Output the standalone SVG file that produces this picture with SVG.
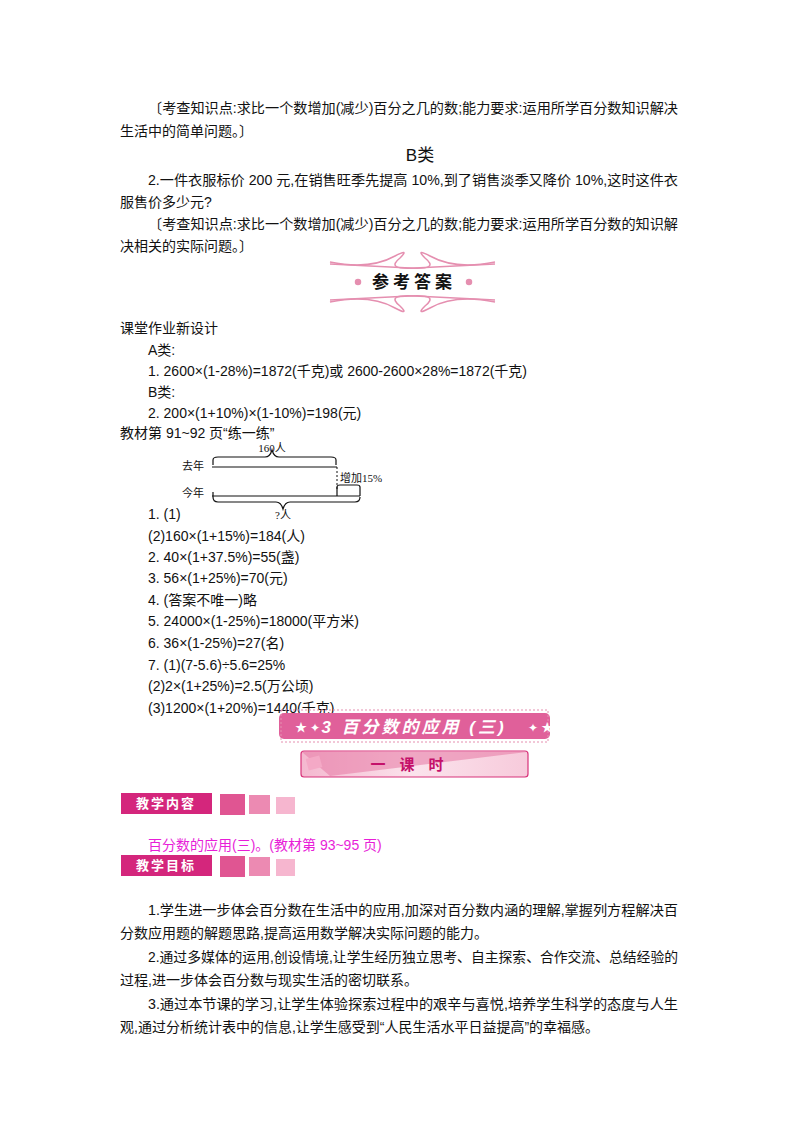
<svg xmlns="http://www.w3.org/2000/svg" width="800" height="1132" viewBox="0 0 800 1132">
<style>
text{font-family:"Liberation Sans","Noto Sans CJK SC",sans-serif;font-size:14px;fill:#111}
.s{font-family:"Liberation Serif","Noto Sans CJK SC",serif;font-size:11px}
.pk{fill:#e0187e}
.w{fill:#fff;font-weight:bold}
.ln{stroke:#111;stroke-width:1.2;fill:none}
</style>
<rect width="800" height="1132" fill="#fff"/>
<g id="text-top">
<text x="148" y="113" textLength="530" lengthAdjust="spacingAndGlyphs">〔考查知识点:求比一个数增加(减少)百分之几的数;能力要求:运用所学百分数知识解决</text>
<text x="120" y="136">生活中的简单问题。〕</text>
<text x="420" y="161" font-size="17" text-anchor="middle" style="font-size:17px">B类</text>
<text x="148" y="185" textLength="530" lengthAdjust="spacingAndGlyphs">2.一件衣服标价 200 元,在销售旺季先提高 10%,到了销售淡季又降价 10%,这时这件衣</text>
<text x="120" y="207">服售价多少元?</text>
<text x="148" y="229" textLength="530" lengthAdjust="spacingAndGlyphs">〔考查知识点:求比一个数增加(减少)百分之几的数;能力要求:运用所学百分数的知识解</text>
<text x="120" y="251">决相关的实际问题。〕</text>
</g>
<g id="answer-banner" fill="none" stroke="#e58fb0" stroke-width="1.5">
<path d="M330 262 Q370 270 395 256 Q410 248 400 258 Q385 270 415 268 L495 264"/>
<path d="M495 262 Q455 270 430 256 Q415 248 425 258 Q440 270 410 268 L330 264"/>
<path d="M330 302 Q370 294 395 308 Q410 316 400 306 Q385 294 415 296 L495 300"/>
<path d="M495 302 Q455 294 430 308 Q415 316 425 306 Q440 294 410 296 L330 300"/>
<circle cx="358" cy="282" r="2.5" fill="#e58fb0"/>
<circle cx="469" cy="282" r="2.5" fill="#e58fb0"/>
<text x="414" y="288" text-anchor="middle" stroke="none" style="font-size:17px;font-weight:bold;letter-spacing:4px">参考答案</text>
</g>
<g id="answers">
<text x="120" y="333">课堂作业新设计</text>
<text x="148" y="355">A类:</text>
<text x="148" y="376">1. 2600×(1-28%)=1872(千克)或 2600-2600×28%=1872(千克)</text>
<text x="148" y="397">B类:</text>
<text x="148" y="418">2. 200×(1+10%)×(1-10%)=198(元)</text>
<text x="120" y="438">教材第 91~92 页“练一练”</text>
</g>
<g id="bar-diagram">
<text class="s" x="182" y="470">去年</text>
<text class="s" x="182" y="497">今年</text>
<text class="s" x="272" y="452" text-anchor="middle">160人</text>
<text class="s" x="340" y="482">增加15%</text>
<text class="s" x="283" y="519" text-anchor="middle">?人</text>
<path class="ln" d="M213 465 L213 460 Q213 457 218 457 L265 457 Q270 457 272 450 Q274 457 279 457 L331 457 Q336 457 336 460 L336 465"/>
<line class="ln" x1="212" y1="467" x2="337" y2="467"/>
<line x1="337" y1="467" x2="337" y2="490" stroke="#111" stroke-dasharray="2,2"/>
<line class="ln" x1="212" y1="496" x2="360" y2="496"/>
<path class="ln" d="M337 496 L337 487 Q337 485 340 485 L357 485 Q360 485 360 487 L360 496"/>
<path class="ln" d="M213 492 L213 497 M213 497 Q213 502 218 502 L276 502 Q281 502 283 509 Q285 502 290 502 L355 502 Q360 502 360 497"/>
</g>
<g id="exercise">
<text x="148" y="519">1. (1)</text>
<text x="148" y="541">(2)160×(1+15%)=184(人)</text>
<text x="148" y="562">2. 40×(1+37.5%)=55(盏)</text>
<text x="148" y="583">3. 56×(1+25%)=70(元)</text>
<text x="148" y="605">4. (答案不唯一)略</text>
<text x="148" y="626">5. 24000×(1-25%)=18000(平方米)</text>
<text x="148" y="648">6. 36×(1-25%)=27(名)</text>
<text x="148" y="670">7. (1)(7-5.6)÷5.6=25%</text>
<text x="148" y="691">(2)2×(1+25%)=2.5(万公顷)</text>
<text x="148" y="713">(3)1200×(1+20%)=1440(千克)</text>
</g>
<g id="chapter-banner">
<rect x="279" y="713" width="271" height="26" rx="5" fill="#e0609a"/>
<rect x="281" y="710" width="267" height="32" fill="none" stroke="#e58fb0" stroke-dasharray="2,2"/>
<text x="295" y="732" fill="#fff" style="fill:#fff;font-size:12px">★ ✦</text>
<text x="528" y="732" style="fill:#fff;font-size:12px">✦ ★</text>
<text x="414" y="733" text-anchor="middle" class="w" style="font-size:17px;font-style:italic;letter-spacing:3px">3 百分数的应用 (三)</text>
</g>
<g id="lesson-banner">
<defs><linearGradient id="g1" x1="0" x2="1"><stop offset="0" stop-color="#f4b8cf"/><stop offset="0.5" stop-color="#fbe3ec"/><stop offset="1" stop-color="#f7cadb"/></linearGradient></defs>
<rect x="301" y="751" width="227" height="26" rx="3" fill="url(#g1)" stroke="#d8337a" stroke-width="1.2"/>
<path d="M302 752 L527 752 L330 776 Z" fill="#e77fa8" opacity="0.6"/>
<rect x="307" y="757" width="14" height="12" fill="#f4a9c6" transform="rotate(-15 314 763)"/>
<text x="414" y="770" text-anchor="middle" style="font-size:15px;font-weight:bold;fill:#c4106a;letter-spacing:14px">一课时</text>
</g>
<g id="content-header">
<rect x="121" y="793" width="91" height="21" fill="#d4267c"/>
<text x="166" y="808" text-anchor="middle" class="w" style="font-size:13px;letter-spacing:2px">教学内容</text>
<rect x="220" y="794" width="25" height="21" fill="#e05592"/>
<rect x="249" y="795" width="21" height="19" fill="#ec8ab2"/>
<rect x="276" y="797" width="19" height="17" fill="#f6b6cf"/>
</g>
<text x="148" y="850" class="pk" style="fill:#e81ed8">百分数的应用(三)。(教材第 93~95 页)</text>
<g id="goal-header">
<rect x="121" y="855" width="91" height="21" fill="#d4267c"/>
<text x="166" y="870" text-anchor="middle" class="w" style="font-size:13px;letter-spacing:2px">教学目标</text>
<rect x="220" y="856" width="25" height="21" fill="#e05592"/>
<rect x="249" y="857" width="21" height="19" fill="#ec8ab2"/>
<rect x="276" y="859" width="19" height="17" fill="#f6b6cf"/>
</g>
<g id="goals">
<text x="148" y="915" textLength="530" lengthAdjust="spacingAndGlyphs">1.学生进一步体会百分数在生活中的应用,加深对百分数内涵的理解,掌握列方程解决百</text>
<text x="120" y="938">分数应用题的解题思路,提高运用数学解决实际问题的能力。</text>
<text x="148" y="962" textLength="530" lengthAdjust="spacingAndGlyphs">2.通过多媒体的运用,创设情境,让学生经历独立思考、自主探索、合作交流、总结经验的</text>
<text x="120" y="985">过程,进一步体会百分数与现实生活的密切联系。</text>
<text x="148" y="1009" textLength="530" lengthAdjust="spacingAndGlyphs">3.通过本节课的学习,让学生体验探索过程中的艰辛与喜悦,培养学生科学的态度与人生</text>
<text x="120" y="1032">观,通过分析统计表中的信息,让学生感受到“人民生活水平日益提高”的幸福感。</text>
</g>
</svg>
